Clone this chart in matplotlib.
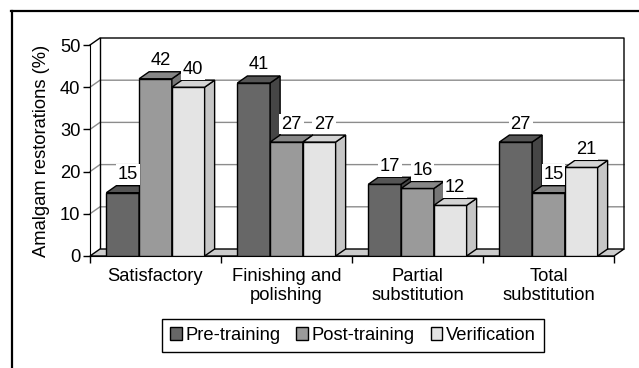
import numpy as np
import matplotlib
matplotlib.use("Agg")
import matplotlib.pyplot as plt
from matplotlib.patches import Polygon, Patch
from matplotlib.lines import Line2D

plt.rcParams["font.family"] = ["Liberation Sans", "DejaVu Sans"]

# restorations by category, %
categories = ["Satisfactory", "Finishing and\npolishing", "Partial\nsubstitution", "Total\nsubstitution"]
series_names = ["Pre-training", "Post-training", "Verification"]
pre = [15, 41, 17, 27]
post = [42, 27, 16, 15]
verif = [40, 27, 12, 21]
values = [pre, post, verif]

# front / side / top shades for the pseudo-3D columns
front_col = ["#676767", "#9a9a9a", "#e4e4e4"]
side_col = ["#464646", "#777777", "#c6c6c6"]
top_col = ["#555555", "#878787", "#d4d4d4"]

FS = 13.2
DEPTH_PX = (10, 7)  # depth offset in pixels (right, up)

W, H, DPI = 639, 368, 100
fig = plt.figure(figsize=(W / DPI, H / DPI), dpi=DPI)
ax = fig.add_axes([90 / W, 1 - 256 / H, 524 / W, 211 / H])
ax.set_xlim(0, 4)
ax.set_ylim(0, 50)

# depth offset converted to data units
p0 = ax.transData.transform((0, 0))
p1 = ax.transData.transform((1, 10))
DX = DEPTH_PX[0] / (p1[0] - p0[0])
DY = DEPTH_PX[1] / (p1[1] - p0[1]) * 10

n = len(categories)

# back wall
ax.add_patch(Polygon([(DX, DY), (n + DX, DY), (n + DX, 50 + DY), (DX, 50 + DY)],
                     closed=True, fc="white", ec="none", zorder=0.5, clip_on=False))
for g in [10, 20, 30, 40]:
    ax.plot([0, DX, n + DX], [g, g + DY, g + DY], color="#8c8c8c", lw=1, zorder=1, clip_on=False)
ax.plot([0, DX, n + DX, n + DX], [50, 50 + DY, 50 + DY, DY], color="black", lw=1, zorder=1.2, clip_on=False)
ax.plot([DX, DX], [DY, 50 + DY], color="black", lw=1, zorder=1.2, clip_on=False)

# floor
ax.add_patch(Polygon([(0, 0), (n, 0), (n + DX, DY), (DX, DY)], closed=True,
                     fc="#cccccc", ec="black", lw=1, zorder=1.5, clip_on=False))

# columns, drawn left to right so nearer faces cover farther ones
bw = 0.25
z = 2.0
for i in range(n):
    for s in range(3):
        v = values[s][i]
        l = i + 0.125 + s * bw
        r = l + bw
        rect = ax.bar(l, v, width=bw, align="edge", color=front_col[s],
                      edgecolor="black", lw=1)[0]
        rect.set_zorder(z)
        ax.add_patch(Polygon([(r, 0), (r + DX, DY), (r + DX, v + DY), (r, v)], closed=True,
                             fc=side_col[s], ec="black", lw=1, zorder=z, clip_on=False))
        ax.add_patch(Polygon([(l, v), (r, v), (r + DX, v + DY), (l + DX, v + DY)], closed=True,
                             fc=top_col[s], ec="black", lw=1, zorder=z, clip_on=False))
        z += 0.01
        ax.annotate(f"{v}", (l + bw / 2, v), xytext=(5, 18), textcoords="offset pixels",
                    ha="center", va="center", fontsize=FS, zorder=10,
                    bbox=dict(boxstyle="square,pad=0.1", fc="white", ec="none"))

# axes frame: only the front-left axis and the front floor edge
for sp in ["top", "right"]:
    ax.spines[sp].set_visible(False)
ax.spines["left"].set_zorder(1.6)
ax.spines["bottom"].set_zorder(1.6)
ax.set_yticks([0, 10, 20, 30, 40, 50])
ax.tick_params(axis="y", direction="out", length=5, width=1, pad=2, labelsize=FS)
ax.set_xticks([i + 0.5 for i in range(n)], categories)
ax.set_xticks(range(n + 1), minor=True)
ax.tick_params(axis="x", which="major", length=0, pad=8.5, labelsize=FS)
ax.tick_params(axis="x", which="minor", direction="out", length=5, width=1)
ax.set_ylabel("Amalgam restorations (%)", fontsize=FS, labelpad=7)

handles = [Patch(fc=front_col[s], ec="black", lw=1) for s in range(3)]
leg = fig.legend(handles, series_names, loc="center", ncol=3,
                 bbox_to_anchor=(353 / W, 1 - 335.5 / H), fontsize=FS,
                 handlelength=0.65, handleheight=0.65, handletextpad=0.2,
                 columnspacing=0.85, fancybox=False, edgecolor="black",
                 framealpha=1, borderpad=0.45, borderaxespad=0)
leg.get_frame().set_linewidth(1)

# outer chart border
fig.add_artist(Line2D([11 / W, 1], [1 - 10.5 / H, 1 - 10.5 / H], color="black", lw=1.6))
fig.add_artist(Line2D([11.5 / W, 11.5 / W], [0, 1 - 10.5 / H], color="black", lw=1.6))

fig.savefig("out.png", dpi=DPI)
